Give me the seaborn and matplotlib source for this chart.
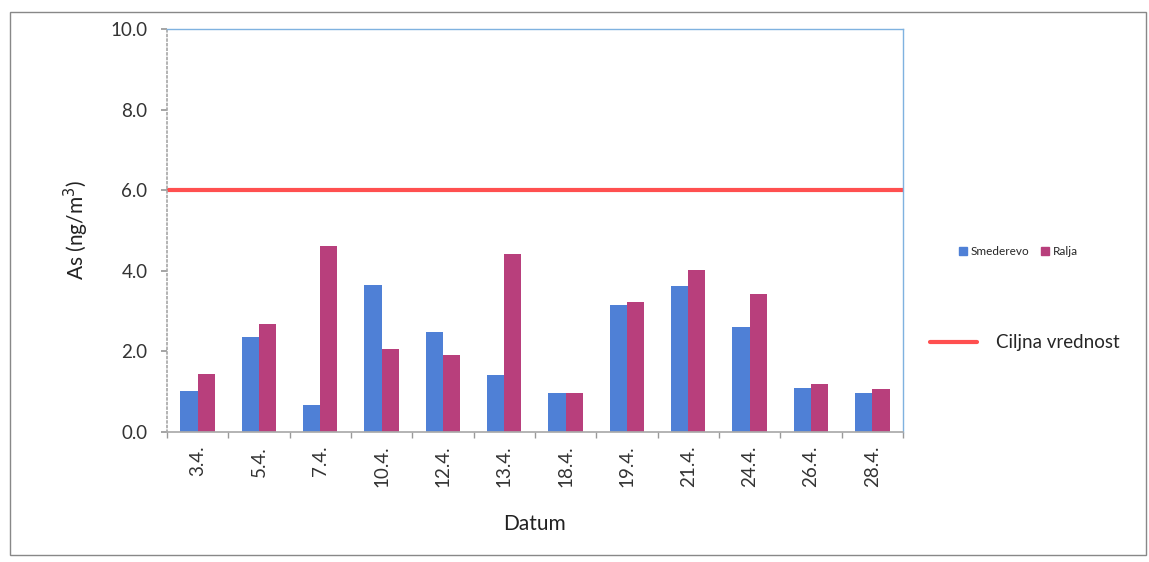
import pandas as pd
import numpy as np
import matplotlib.pyplot as plt
import matplotlib.patches as mpatches
from matplotlib.lines import Line2D
import seaborn as sns

sns.set_theme(style="white")
plt.rcParams['font.family'] = ['Lato', 'DejaVu Sans']

# ------------------------------------------------------------
# DATA
# ------------------------------------------------------------
dates = ["3.4.", "5.4.", "7.4.", "10.4.", "12.4.", "13.4.",
         "18.4.", "19.4.", "21.4.", "24.4.", "26.4.", "28.4."]
smederevo = [1.02, 2.36, 0.67, 3.65, 2.48, 1.41, 0.97, 3.15, 3.62, 2.60, 1.09, 0.97]
ralja = [1.44, 2.68, 4.62, 2.06, 1.91, 4.42, 0.97, 3.23, 4.02, 3.42, 1.20, 1.07]
target_value = 6.0

df = pd.DataFrame({
    "Datum": dates * 2,
    "As": smederevo + ralja,
    "Stanica": ["Smederevo"] * len(dates) + ["Ralja"] * len(dates),
})

colors = {"Smederevo": "#4f80d6", "Ralja": "#b83f7c"}
line_color = "#ff4f4f"

# ------------------------------------------------------------
# PLOT
# ------------------------------------------------------------
fig = plt.figure(figsize=(11.49, 5.62), dpi=100)
ax = fig.add_axes([0.1453, 0.2313, 0.6406, 0.717])

sns.barplot(data=df, x="Datum", y="As", hue="Stanica", palette=colors,
            width=0.56, saturation=1, linewidth=0, ax=ax, legend=False)
ax.axhline(target_value, color=line_color, lw=3)

ax.set_ylim(0, 10)
ax.set_xlim(-0.5, len(dates) - 0.5)
ax.set_yticks(np.arange(0, 10.1, 2))
ax.set_yticklabels([f"{v:.1f}" for v in np.arange(0, 10.1, 2)], fontsize=13.5, color="#333333")
ax.set_xticks(range(len(dates)))
ax.set_xticklabels(dates, rotation=90, fontsize=13.5, color="#333333")
ax.set_xticks(np.arange(-0.5, len(dates), 1), minor=True)
ax.tick_params(axis="x", which="major", length=0, pad=10)
ax.tick_params(axis="x", which="minor", length=4, color="#999999", bottom=True)
ax.tick_params(axis="y", length=4, color="#999999", left=True, pad=10)

ax.set_xlabel("Datum", fontsize=15, color="#222222", labelpad=19)
ax.set_ylabel("As (ng/m$^3$)", fontsize=15, color="#222222", labelpad=14)

for side in ["top", "right"]:
    ax.spines[side].set_color("#7fb2e0")
    ax.spines[side].set_linewidth(1)
ax.spines["left"].set_color("#aaaaaa")
ax.spines["left"].set_linestyle(":")
ax.spines["bottom"].set_color("#aaaaaa")

# legends
bar_handles = [mpatches.Patch(color=colors[k], label=k) for k in ["Smederevo", "Ralja"]]
leg1 = fig.legend(handles=bar_handles, loc="center left", bbox_to_anchor=(0.825, 0.552),
                  ncol=2, frameon=False, fontsize=8.5, handlelength=0.7, handleheight=0.7,
                  handletextpad=0.3, columnspacing=1.0)
line_handle = [Line2D([0], [0], color=line_color, lw=3, label="Ciljna vrednost")]
leg2 = fig.legend(handles=line_handle, loc="center left", bbox_to_anchor=(0.795, 0.39),
                  frameon=False, fontsize=13.5, handlelength=2.5, handletextpad=1.0)

# outer chart frame
fig.patches.append(mpatches.Rectangle((0.009, 0.012), 0.988, 0.966, transform=fig.transFigure,
                                      fill=False, edgecolor="#888888", lw=1))

fig.savefig("out.png", dpi=100)
